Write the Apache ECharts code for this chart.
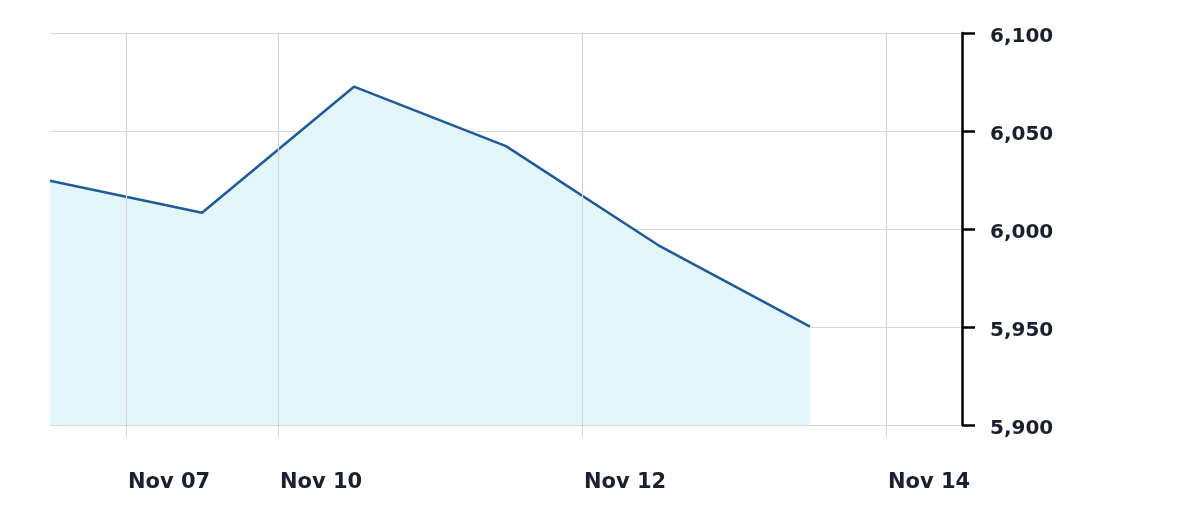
<!DOCTYPE html>
<html>
<head>
<meta charset="utf-8">
<script src="https://cdn.jsdelivr.net/npm/echarts@6/dist/echarts.min.js"></script>
<style>html,body{margin:0;padding:0;background:#fff;}#c{width:1200px;height:526px;}</style>
</head>
<body>
<div id="c"></div>
<script>
// Trading-day index positions (Nov 07 = 0, Nov 10 = 1, Nov 11 = 2, Nov 12 = 3, Nov 13 = 4, Nov 14 = 5)
const tickPositions = [0, 1, 3, 5];
const tickLabels = ['Nov 07', 'Nov 10', 'Nov 12', 'Nov 14'];
const pointPositions = [-0.5, 0.5, 1.5, 2.5, 3.5, 4.5];
const values = [6024.6, 6008.3, 6072.6, 6042.3, 5991.8, 5950.2];
const yTicks = [5900, 5950, 6000, 6050, 6100];

const chart = echarts.init(document.getElementById('c'), null, {renderer: 'canvas'});
const font = 'DejaVu Sans';
const labelFor = v => { const i = tickPositions.indexOf(v); return i >= 0 ? tickLabels[i] : ''; };

chart.setOption({
  animation: false,
  grid: {left: 50, right: 238, top: 33, bottom: 101, containLabel: false},
  xAxis: {
    type: 'value', min: -0.5, max: 5.5,
    axisLine: {show: false},
    splitLine: {show: false},
    axisTick: {show: true, customValues: tickPositions, length: 13, lineStyle: {color: '#d6d6d6', width: 1}},
    axisLabel: {
      show: true, customValues: tickPositions, formatter: labelFor,
      align: 'left', margin: 47, padding: [0, 0, 0, 2],
      fontFamily: font, fontWeight: 'bold', fontSize: 21, color: '#1b1f2e'
    }
  },
  yAxis: {
    type: 'value', position: 'right', min: yTicks[0], max: yTicks[yTicks.length - 1], interval: 50,
    axisLine: {show: true, onZero: false, lineStyle: {color: '#000', width: 2.5}},
    axisTick: {show: true, inside: false, length: 13, lineStyle: {color: '#000', width: 2.5}},
    splitLine: {show: true, lineStyle: {color: '#d6d6d6', width: 1.2}},
    axisLabel: {
      margin: 28, fontFamily: font, fontWeight: 'bold', fontSize: 20, color: '#1b1f2e',
      formatter: v => '{a|' + v.toLocaleString('en-US') + '}',
      rich: {a: {fontFamily: font, fontWeight: 'bold', fontSize: 20, color: '#1b1f2e', padding: [8, 0, 0, 0]}}
    }
  },
  series: [{
    type: 'line',
    data: pointPositions.map((x, i) => [x, values[i]]),
    symbol: 'none',
    lineStyle: {color: '#1f5b98', width: 2.5},
    areaStyle: {color: '#e2f6fc', opacity: 1, origin: 'start'},
    z: 3,
    markLine: {
      silent: true, symbol: 'none', animation: false,
      label: {show: false},
      lineStyle: {color: '#d6d6d6', width: 1.2, type: 'solid'},
      data: tickPositions.map(x => ({xAxis: x}))
    }
  }]
});
</script>
</body>
</html>
